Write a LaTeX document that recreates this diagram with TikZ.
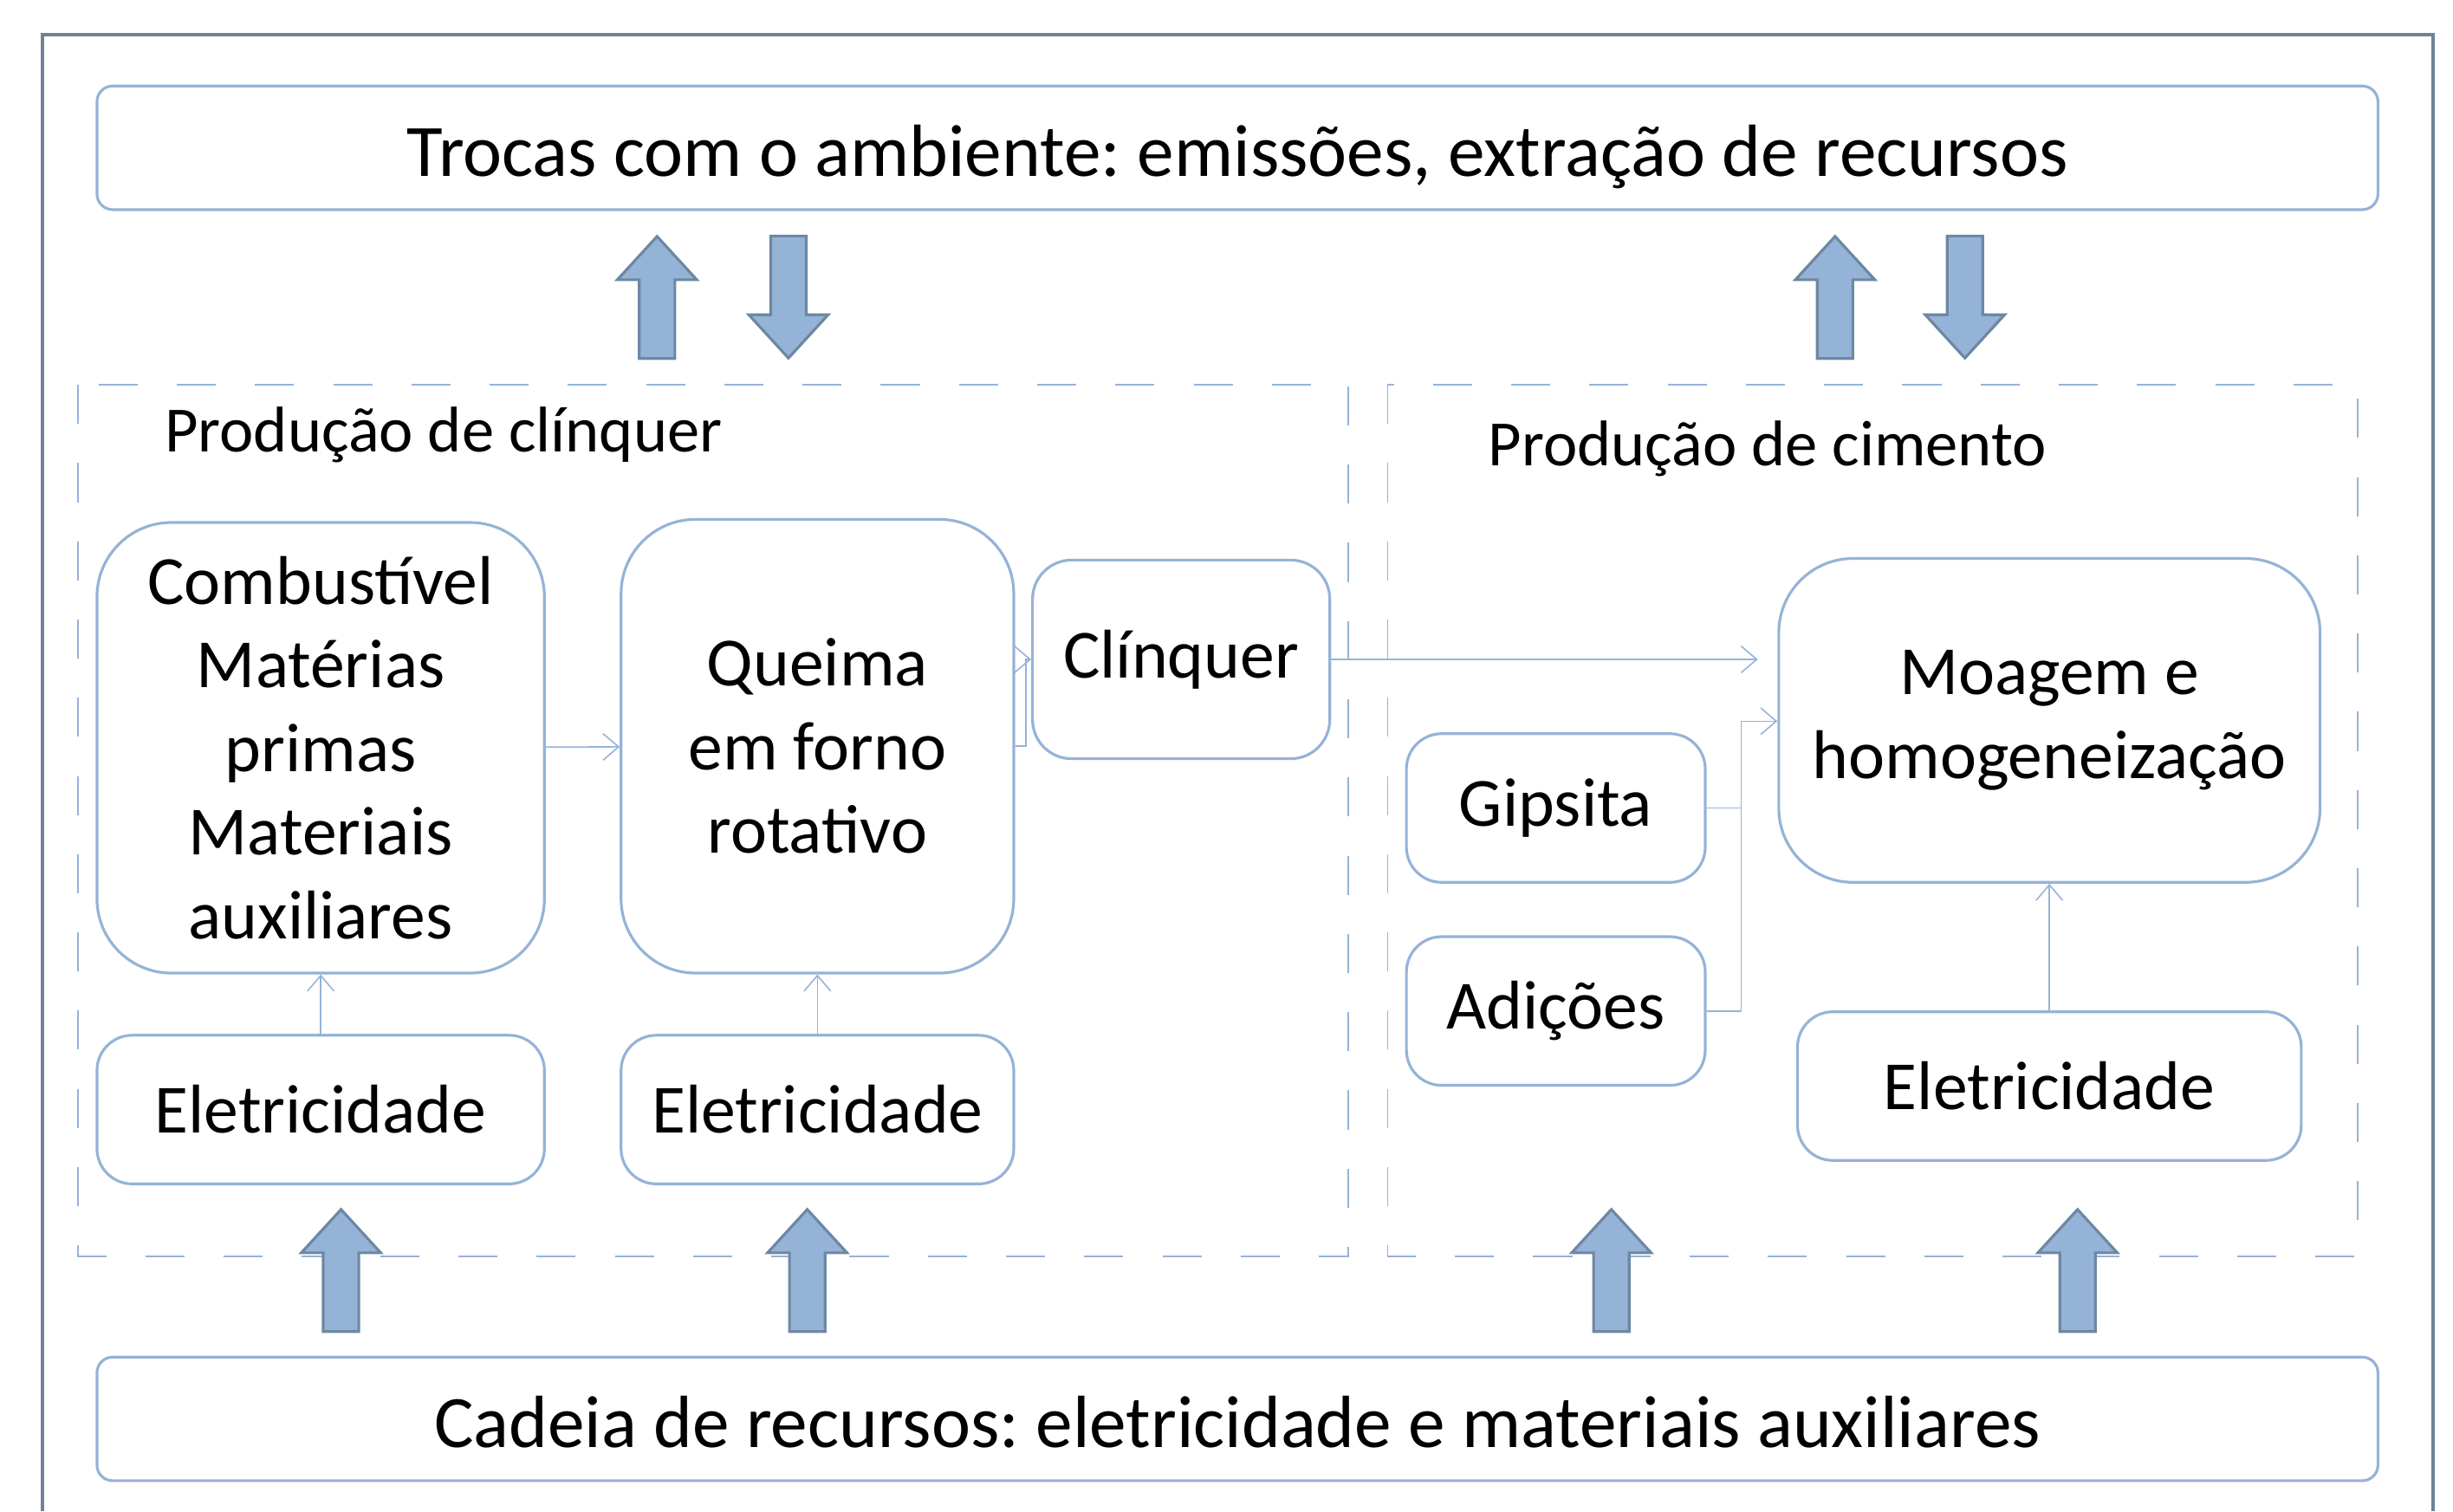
\documentclass[tikz,border=0pt]{standalone}
\usepackage{fontspec}
\setmainfont{Carlito}
\usepackage{tikz}
\usetikzlibrary{arrows.meta,positioning,shapes.arrows}
\frenchspacing
\definecolor{boxline}{RGB}{149,179,215}
\definecolor{arrowfill}{RGB}{149,179,215}
\definecolor{arrowline}{RGB}{108,136,163}
\definecolor{frameline}{RGB}{110,131,152}
\tikzstyle{bigbox} = [rectangle, rounded corners=9.5mm, draw=boxline, line width=1pt, align=center, font=\fontsize{25.1}{30.4}\selectfont]
\tikzstyle{smallbox} = [rectangle, rounded corners=4.5mm, minimum height=19mm, draw=boxline, line width=1pt, align=center, font=\fontsize{25.1}{30.4}\selectfont]
\tikzstyle{widebox} = [rectangle, rounded corners=2mm, minimum width=291.6mm, minimum height=15.8mm, text height=20.5pt, text depth=0pt, draw=boxline, line width=1pt, font=\fontsize{26.9}{32}\selectfont]
\tikzstyle{grouptitle} = [anchor=west, inner sep=0pt, font=\fontsize{23.5}{28}\selectfont]
\tikzstyle{group} = [draw=boxline, line width=0.6pt, dash pattern=on 5mm off 5mm]
\tikzstyle{blockup} = [single arrow, rotate=90, anchor=tail, draw=arrowline, fill=arrowfill, line width=1pt, inner sep=2.1mm, minimum height=15.6mm, minimum width=0pt, single arrow head extend=2.8mm, single arrow tip angle=85]
\tikzstyle{blockdown} = [blockup, rotate=180]
\tikzstyle{arrow} = [draw=boxline, line width=0.5pt, -{Straight Barb[length=2mm,width=3.4mm]}]

\begin{document}
\begin{tikzpicture}[x=0.2mm, y=-0.2mm]
\useasboundingbox (0,0) rectangle (1568,966);

% outer frame, open at the bottom
\draw [frameline, line width=1.3pt] (27,966) -- (27,22) -- (1555,22) -- (1555,966);

% dashed groups
\draw [group] (50,246) rectangle (862,803);
\draw [group] (887,246) rectangle (1507,803);
\node (tit1) [grouptitle] at (105,278) {Produção de clínquer};
\node (tit2) [grouptitle] at (951,287) {Produção de cimento};

\node (env) [widebox] at (791,94.5) {Trocas com o ambiente: emissões, extração de recursos};
\node (chain) [widebox] at (791,907) {Cadeia de recursos: eletricidade e materiais auxiliares};

% clinker side
\node (comb) [bigbox, minimum width=57.2mm, minimum height=57.6mm] at (205,478) {Combustível\\Matérias\\primas\\Materiais\\auxiliares};
\node (elec1) [smallbox, minimum width=57.2mm, below=7.6mm of comb] {Eletricidade};
\node (kiln) [bigbox, minimum width=50.2mm, minimum height=58mm] at (522.5,477) {Queima\\em forno\\rotativo};
\node (elec2) [smallbox, minimum width=50.2mm, below=7.6mm of kiln] {Eletricidade};
\node (clinq) [smallbox, rounded corners=5mm, minimum width=38mm, minimum height=25.4mm] at (755,421.5) {Clínquer};

% cement side
\node (mill) [bigbox, minimum width=69.2mm, minimum height=41.4mm] at (1310,460.5) {Moagem e\\homogeneização};
\node (elec3) [smallbox, minimum width=64.4mm, below=16.2mm of mill] {Eletricidade};
\node (gyps) [smallbox, minimum width=38.2mm] at (994.5,516.5) {Gipsita};
\node (addit) [smallbox, minimum width=38.2mm, below=6.6mm of gyps] {Adições};

\coordinate (joinc) at (1113,461);

% block arrows (placed by their tail)
\node (up1) [blockup] at (420,230) {};
\node (down1) [blockdown] at (504,150) {};
\node (up2) [blockup] at (1173,230) {};
\node (down2) [blockdown] at (1256,150) {};
\node (in1) [blockup] at (218,852) {};
\node (in2) [blockup] at (516,852) {};
\node (in3) [blockup] at (1030,852) {};
\node (in4) [blockup] at (1328,852) {};

\draw [arrow] (comb) -- (kiln);
\draw [arrow] (kiln.east) -- ++(1.4mm,0) |- (clinq.west);
\draw [arrow, shorten >=2.5mm] (clinq.east) -- (clinq.east -| mill.west);
\draw [arrow] (gyps.east) -| (joinc) -- (joinc -| mill.west);
\draw [boxline, line width=0.5pt] (addit.east) -| (joinc);
\draw [arrow] (elec1) -- (comb);
\draw [arrow] (elec2) -- (kiln);
\draw [arrow] (elec3.north) -- (elec3.north |- mill.south);

\end{tikzpicture}
\end{document}
